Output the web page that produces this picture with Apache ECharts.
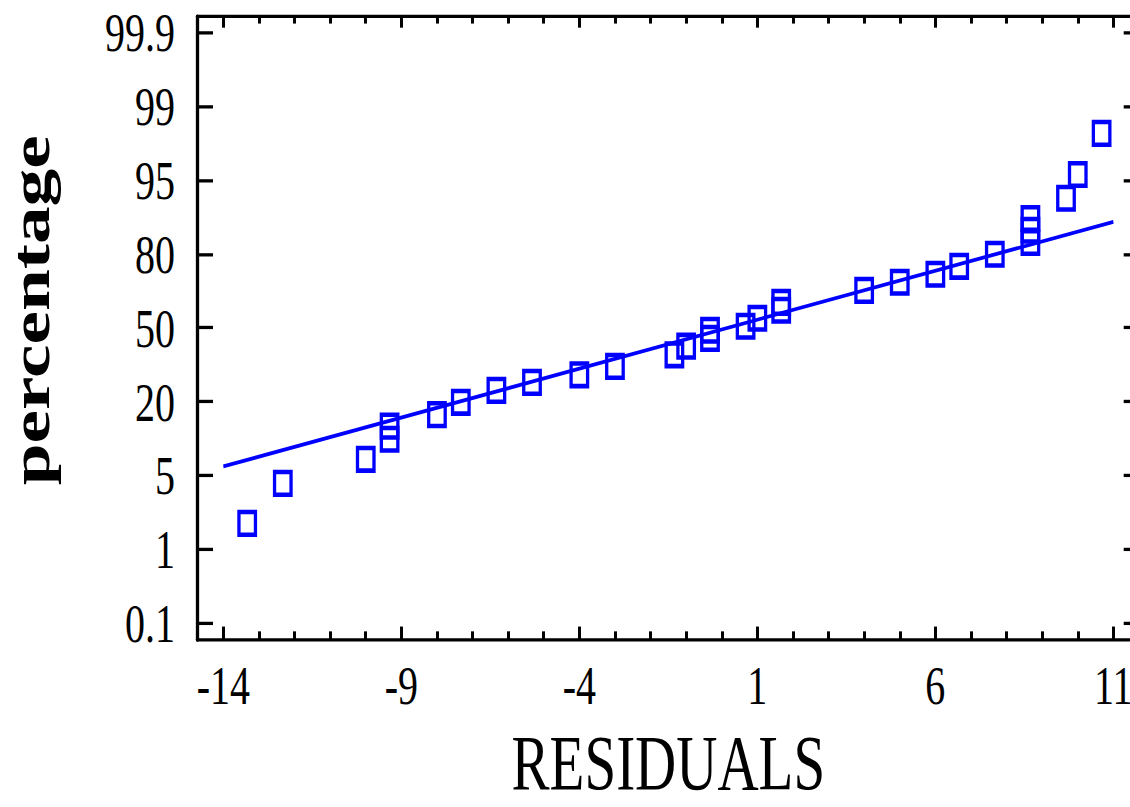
<!DOCTYPE html>
<html>
<head>
<meta charset="utf-8">
<script src="https://cdn.jsdelivr.net/npm/echarts@6/dist/echarts.min.js"></script>
<style>
  html, body { margin: 0; padding: 0; background: #fff; overflow: hidden; }
  #wrap { width: 1130px; height: 807px; overflow: hidden; position: relative; }
  #chart { width: 1130px; height: 589px; transform: scaleY(1.37012); transform-origin: 0 0; }
</style>
</head>
<body>
<div id="wrap"><div id="chart"></div></div>
<script>
// ---- data ----
const residuals = [-13.33, -12.33, -10.0, -9.33, -9.33, -8.0, -7.33, -6.33, -5.33, -4.0,
                   -3.0, -1.33, -1.0, -0.33, -0.33, 0.67, 1.0, 1.67, 1.67, 4.0,
                   5.0, 6.0, 6.67, 7.67, 8.67, 8.67, 8.67, 9.67, 10.0, 10.67];
const percentages = [1.85, 4.3, 7.1, 10.55, 13.4, 16.3, 19.8, 23.8, 26.7, 29.6,
                     33.0, 37.9, 41.7, 45.2, 48.9, 50.7, 54.3, 57.9, 61.4, 66.5,
                     69.8, 72.9, 75.8, 79.9, 83.3, 86.4, 89.0, 92.6, 95.5, 98.1];
const fitLineX = [-14, 11];
const fitLinePct = [6.1, 88.3];
const yTickPercents = [0.1, 1, 5, 20, 50, 80, 95, 99, 99.9];
const yTickLabels = ['0.1', '1', '5', '20', '50', '80', '95', '99', '99.9'];
const xTickValues = [-14, -9, -4, 1, 6, 11];

// ---- probability scale helpers ----
function probit(p) {
  const a = [-3.969683028665376e+01, 2.209460984245205e+02, -2.759285104469687e+02, 1.383577518672690e+02, -3.066479806614716e+01, 2.506628277459239e+00];
  const b = [-5.447609879822406e+01, 1.615858368580409e+02, -1.556989798598866e+02, 6.680131188771972e+01, -1.328068155288572e+01];
  const c = [-7.784894002430293e-03, -3.223964580411365e-01, -2.400758277161838e+00, -2.549732539343734e+00, 4.374664141464968e+00, 2.938163982698783e+00];
  const d = [7.784695709041462e-03, 3.224671290700398e-01, 2.445134137142996e+00, 3.754408661907416e+00];
  const pl = 0.02425, ph = 1 - pl;
  let q, r;
  if (p < pl) {
    q = Math.sqrt(-2 * Math.log(p));
    return (((((c[0]*q+c[1])*q+c[2])*q+c[3])*q+c[4])*q+c[5]) / ((((d[0]*q+d[1])*q+d[2])*q+d[3])*q+1);
  }
  if (p > ph) {
    q = Math.sqrt(-2 * Math.log(1 - p));
    return -(((((c[0]*q+c[1])*q+c[2])*q+c[3])*q+c[4])*q+c[5]) / ((((d[0]*q+d[1])*q+d[2])*q+d[3])*q+1);
  }
  q = p - 0.5; r = q * q;
  return (((((a[0]*r+a[1])*r+a[2])*r+a[3])*r+a[4])*r+a[5])*q / (((((b[0]*r+b[1])*r+b[2])*r+b[3])*r+b[4])*r+1);
}
const tickZ = yTickPercents.map(p => probit(p / 100));
function toPos(pct) {
  const z = probit(pct / 100);
  for (let k = 0; k < tickZ.length - 1; k++) {
    if (z <= tickZ[k + 1]) return k + (z - tickZ[k]) / (tickZ[k + 1] - tickZ[k]);
  }
  return tickZ.length - 1;
}
const yTickPos = yTickLabels.map((_, i) => i);
const xMinorTicks = [];
for (let v = xTickValues[0]; v <= xTickValues[xTickValues.length - 1]; v++) {
  if (xTickValues.indexOf(v) < 0) xMinorTicks.push(v);
}

const FONT = '"Liberation Serif", "Times New Roman", serif';
const XMIN = -14.74, XMAX = 11.74, YMIN = -0.22, YMAX = 8.21;

function xAxisDef(pos, ticks, len, showLine, labels) {
  return {
    type: 'value', position: pos, min: XMIN, max: XMAX,
    axisLine: { show: showLine, onZero: false, lineStyle: { color: '#000', width: 2.4 } },
    axisTick: { show: true, inside: true, length: len, customValues: ticks, lineStyle: { color: '#000', width: 3 } },
    axisLabel: labels ? { show: true, customValues: ticks, fontFamily: FONT, fontSize: 40, color: '#000', margin: 13.5, formatter: v => String(v) } : { show: false },
    splitLine: { show: false }
  };
}
function yAxisDef(pos, labels) {
  return {
    type: 'value', position: pos, min: YMIN, max: YMAX,
    axisLine: { show: true, onZero: false, lineStyle: { color: '#000', width: 3.3 } },
    axisTick: { show: true, inside: true, length: 16, customValues: yTickPos, lineStyle: { color: '#000', width: 2.4 } },
    axisLabel: labels ? { show: true, customValues: yTickPos, fontFamily: FONT, fontSize: 40, color: '#000', margin: 22, formatter: v => yTickLabels[Math.round(v)] } : { show: false },
    splitLine: { show: false }
  };
}

const xBottom = xAxisDef('bottom', xTickValues, 9.5, true, true);
xBottom.name = 'RESIDUALS';
xBottom.nameLocation = 'middle';
xBottom.nameGap = 68;
xBottom.nameTextStyle = { fontFamily: FONT, fontSize: 57, lineHeight: 44, color: '#000' };

const yLeft = yAxisDef('left', true);
yLeft.name = 'percentage';
yLeft.nameLocation = 'middle';
yLeft.nameGap = 139;
yLeft.nameTextStyle = { fontFamily: FONT, fontSize: 55, fontWeight: 'bold', color: '#000', padding: [0, 0, 0, 26] };

const chart = echarts.init(document.getElementById('chart'), null, { renderer: 'svg' });
chart.setOption({
  animation: false,
  backgroundColor: '#fff',
  grid: { left: 197, top: 12.2, width: 942.7, height: 454.6, containLabel: false, outerBoundsMode: 'none' },
  xAxis: [
    xBottom,
    xAxisDef('bottom', xMinorTicks, 6, false, false),
    xAxisDef('top', xTickValues, 8, true, false),
    xAxisDef('top', xMinorTicks, 5, false, false)
  ],
  yAxis: [yLeft, yAxisDef('right', false)],
  series: [
    {
      type: 'line',
      xAxisIndex: 0, yAxisIndex: 0,
      data: fitLineX.map((x, i) => [x, toPos(fitLinePct[i])]),
      showSymbol: false, symbol: 'none',
      lineStyle: { color: '#0000ff', width: 2.8 },
      silent: true, z: 2
    },
    {
      type: 'scatter',
      xAxisIndex: 0, yAxisIndex: 0,
      data: residuals.map((x, i) => [x, toPos(percentages[i])]),
      symbol: 'rect', symbolSize: 16.5,
      itemStyle: { color: 'rgba(0,0,0,0)', borderColor: '#0000ff', borderWidth: 3.3, opacity: 1 },
      z: 3
    }
  ]
});
</script>
</body>
</html>
